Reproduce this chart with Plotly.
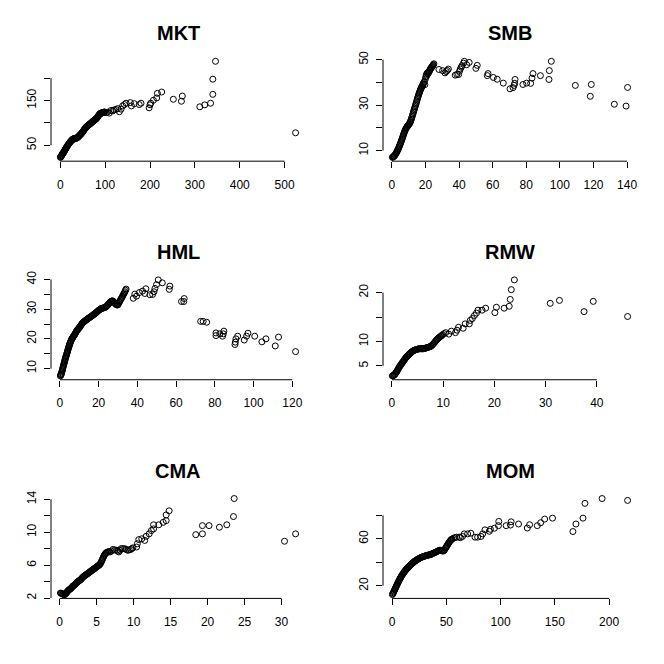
import plotly.graph_objects as go

# ---------------- data ----------------
MKT = [(0.3,23.3),(1.5,25),(3,27.5),(4.5,30),(6,32),(7.5,34.5),(9,37),(10.5,40),(12,42.5),(13.5,45),
       (15,47.5),(17,50.5),(19,53.5),(21,56),(23,58.5),(25,61),(27,63),(29,64.5),(31,65),(33,65.5),
       (35,66),(37,66.5),(39,68),(41,70),(43,72),(45,74),(47,76),(49,79),(51,81.5),(53,84.5),
       (55,87.5),(57,90),(59,92),(61,93.5),(63,95),(65,97),(67,98.5),(69,100),(71,102),(73,104),
       (75,105.5),(77,107),(79,108.5),(81,110.5),(83,113),(85,116),(87,119),(89,121),(91,122),(93,122.5),
       (95,123),(97,124),(99,124.5),(102,123),(105,124),(109,122),(113,127.8),(117,127),(120,129),(124,130),
       (128,132),(131.7,125),(135.5,130.8),(139,138),(143,141),(146.6,144),(156,145.4),(158.5,138),(165,143),(176,141),
       (180,144),(198,133.7),(200,140.5),(201.6,144),(207.6,150.6),(215,155.7),(216.5,166),(226,169),(252,152.8),(270,148.4),
       (272,160),(311,136),(322,140.3),(335,144),(340,163.8),(340,197.6),(346,237.5),(524.5,78)]
MKT_DENSE = [(0.9,23.8),(2.2,26.5),(3.7,28.5),(5.2,31.5),(6.7,33),(8.2,36),(9.7,38.5),(11.2,41.5),(12.7,43.5),(14.2,46.5),
       (16,49),(18,52),(20,54.5),(22,57.5),(24,59.5),(26,62),(28,63.5),(30,64),(32,65.5),(34,65),
       (36,66.5),(38,67),(40,69),(42,71),(44,73.5),(46,75),(48,77.5),(50,80),(52,83),(54,86),
       (56,88.5),(58,91),(60,92.5),(62,94.5),(64,96),(66,97.5),(68,99.5),(70,101),(72,103),(74,104.5),
       (76,106.5),(78,107.5),(80,109.5),(82,111.5),(84,114.5),(86,117.5),(88,120),(90,121.5),(92,122.5),(94,122.5),
       (96,123.5),(98,124)]

SMB = [(0.3,7.04),(0.8,7.3),(1.3,7.6),(1.8,8),(2.3,8.6),(2.8,9.3),(3.3,10),(3.8,10.8),(4.3,11.7),(4.8,12.6),
       (5.3,13.6),(5.8,14.6),(6.3,15.7),(6.8,16.8),(7.3,17.8),(7.8,18.8),(8.3,19.6),(8.8,20.2),(9.3,20.7),(9.8,21.2),
       (10.3,21.7),(10.8,22.4),(11.3,23.3),(11.8,24.4),(12.3,25.6),(12.8,26.9),(13.3,28.1),(13.8,29.3),(14.3,30.5),(14.8,31.8),
       (15.3,33.1),(15.8,34.3),(16.3,35.4),(16.8,36.4),(17.3,37.3),(17.8,38.1),(18.3,38.9),(18.8,39.6),(19.3,40.4),(19.6,39),
       (19.9,41.5),(20.2,42.5),(20.5,43.5),(21,44),(21.5,43.8),(22,44.5),(22.5,45.3),(23,46),(23.5,46.5),(24,47),
       (24.5,47.6),(25,48.2),(28,45.7),(30.2,45.2),(31.6,44.2),(32.3,44.8),(33,45.3),(33.6,45.9),(37.7,43.2),(38.7,43.5),
       (39.7,43.5),(40.2,44.9),(40.7,45.9),(41.3,46.7),(41.7,47.4),(42.7,48.5),(43.1,49.3),(44.5,47.8),(46,48.8),(50,46.2),
       (50.8,47.5),(56.8,43),(57.2,43.9),(60.4,42.2),(62.7,41.4),(66.3,39.7),(70.3,37.2),(72.1,37.7),(72.7,38.7),(73.1,39.6),
       (73.3,41.3),(78,39.1),(80.2,39.7),(82.6,39.6),(83.4,41.9),(84,43.9),(88.4,43),(93.5,41.3),(93.7,45.2),(94.9,49.3),
       (109.2,38.7),(118.1,33.9),(118.7,39.1),(132.4,30.4),(139.4,29.6),(140.3,37.8)]
SMB_DENSE = [(0.55,7.1),(1.05,7.45),(1.55,7.8),(2.05,8.3),(2.55,8.9),(3.05,9.6),(3.55,10.4),(4.05,11.2),(4.55,12.1),(5.05,13.1),
       (5.55,14.1),(6.05,15.1),(6.55,16.2),(7.05,17.3),(7.55,18.3),(8.05,19.2),(8.55,19.9),(9.05,20.5),(9.55,20.9),(10.05,21.4),
       (10.55,22),(11.05,22.8),(11.55,23.8),(12.05,25),(12.55,26.2),(13.05,27.5),(13.55,28.7),(14.05,29.9),(14.55,31.1),(15.05,32.4),
       (15.55,33.7),(16.05,34.9),(16.55,35.9),(17.05,36.9),(17.55,37.7),(18.05,38.5),(18.55,39.2),(19.05,40),(20.7,42.8),(21.2,44.3),
       (21.7,44.5),(22.2,44.8),(22.7,45.6),(23.2,46.3),(23.7,46.8),(24.2,47.3),(24.7,47.9)]

HML = [(0.3,7.5),(0.6,7.9),(0.9,8.5),(1.2,9.2),(1.5,10),(1.8,10.8),(2.1,11.5),(2.4,12.2),(2.7,13),(3,13.7),
       (3.3,14.3),(3.6,15),(3.9,15.6),(4.2,16.3),(4.5,17),(4.8,17.6),(5.1,18.2),(5.4,18.8),(5.8,19.4),(6.2,20),
       (6.6,20.4),(7,20.8),(7.4,21.2),(7.8,21.6),(8.3,22.2),(8.8,22.8),(9.3,23.2),(9.8,23.6),(10.3,24),(10.8,24.5),
       (11.3,25),(11.8,25.4),(12.5,25.8),(13.2,26.2),(13.9,26.5),(14.6,26.9),(15.3,27.2),(16,27.5),(16.7,27.8),(17.4,28.2),
       (18.1,28.5),(18.8,28.9),(19.5,29.3),(20.2,29.7),(20.9,30),(21.6,30.3),(22.3,30.4),(23,30.5),(23.8,30.8),(24.5,31.3),
       (25.2,31.8),(25.9,32.3),(26.6,32.7),(27.3,32.8),(28,32.3),(28.7,31.8),(29.4,31.5),(30,31.5),(30.6,32.3),(31.2,33),
       (31.8,33.7),(32.4,34.4),(33,35.2),(33.6,35.9),(34.2,36.8),(37.9,33.7),(38.7,35.1),(39.6,34.4),(41,35.6),(42.7,36.1),
       (43.9,35.3),(44.4,36.9),(46.5,34.9),(47.9,35),(48.6,35.9),(49.1,37),(49.9,38.3),(50.8,39.9),(52.9,38.9),(56.5,36.7),
       (56.8,37.8),(62.8,32.6),(64,32.6),(64.2,33.6),(72.7,25.9),(74,25.9),(75.8,25.6),(80.6,21.1),(80.6,22),(82.6,21.7),
       (84,20.9),(84.4,21.7),(84.7,22.6),(90.4,18.1),(90.6,18.9),(90.9,20),(91.8,20.9),(95.2,19.6),(96.4,20.9),(97.1,21.9),
       (100.6,20.9),(104.3,19),(106.4,20),(111.2,17.6),(112.9,20.6),(121.7,15.7)]
HML_DENSE = [(0.45,7.7),(0.75,8.2),(1.05,8.85),(1.35,9.6),(1.65,10.4),(1.95,11.15),(2.25,11.85),(2.55,12.6),(2.85,13.35),(3.15,14),
       (3.45,14.65),(3.75,15.3),(4.05,15.95),(4.35,16.65),(4.65,17.3),(4.95,17.9),(5.25,18.5),(5.6,19.1),(6,19.7),(6.4,20.2),
       (6.8,20.6),(7.2,21),(7.6,21.4),(8.05,21.9),(8.55,22.5),(9.05,23),(9.55,23.4),(10.05,23.8),(10.55,24.3),(11.05,24.7),
       (11.55,25.2),(12.15,25.6),(12.85,26),(13.55,26.3),(14.25,26.7),(14.95,27),(15.65,27.3),(16.35,27.7),(17.05,28),(17.75,28.3),
       (18.45,28.7),(19.15,29.1),(19.85,29.5),(20.55,29.8),(21.25,30.2),(21.95,30.3),(22.65,30.5),(23.4,30.6),(24.15,31),(24.85,31.5),
       (25.55,32),(26.25,32.5),(26.95,32.8),(27.65,32.6),(28.35,32),(29.05,31.6),(29.7,31.4),(30.3,31.9),(30.9,32.6),(31.5,33.4),
       (32.1,34),(32.7,34.8),(33.3,35.5),(33.9,36.4)]

RMW = [(0.1,2.95),(0.3,3.05),(0.5,3.2),(0.7,3.45),(0.9,3.75),(1.1,4.1),(1.3,4.5),(1.5,4.85),(1.7,5.15),(1.9,5.45),
       (2.1,5.75),(2.3,6.05),(2.5,6.35),(2.7,6.65),(2.9,6.9),(3.1,7.1),(3.3,7.3),(3.5,7.5),(3.7,7.7),(3.9,7.9),
       (4.2,8.1),(4.5,8.25),(4.8,8.35),(5.1,8.45),(5.4,8.5),(5.7,8.5),(6,8.5),(6.3,8.55),(6.6,8.65),(6.9,8.75),
       (7.2,8.85),(7.5,8.95),(7.8,9.2),(8.1,9.5),(8.4,9.9),(8.7,10.3),(9,10.6),(9.3,10.9),(9.6,11.1),(9.9,11.4),
       (10.5,11.8),(11.1,11.5),(11.6,12.1),(12.4,11.8),(12.7,12.3),(13,12.9),(13.9,12.7),(14.3,13.6),(15.1,13.6),(15.3,14.3),
       (15.7,14.7),(16.1,15.3),(16.5,15.8),(16.8,16.4),(17.6,16.4),(18.3,16.8),(20.1,15.9),(20.4,17),(21.9,16.8),(22.9,17.2),
       (23.1,18.6),(23.3,20.6),(23.9,22.6),(30.9,17.8),(32.7,18.4),(37.5,16.1),(39.3,18.2),(46,15.1)]
RMW_DENSE = [(0.2,3),(0.4,3.1),(0.6,3.3),(0.8,3.6),(1,3.9),(1.2,4.3),(1.4,4.7),(1.6,5),(1.8,5.3),(2,5.6),
       (2.2,5.9),(2.4,6.2),(2.6,6.5),(2.8,6.8),(3,7),(3.2,7.2),(3.4,7.4),(3.6,7.6),(3.8,7.8),(4.05,8),
       (4.35,8.2),(4.65,8.3),(4.95,8.4),(5.25,8.5),(5.55,8.5),(5.85,8.5),(6.15,8.5),(6.45,8.6),(6.75,8.7),(7.05,8.8),
       (7.35,8.9),(7.65,9.05),(7.95,9.35),(8.25,9.7),(8.55,10.1),(8.85,10.45),(9.15,10.75),(9.45,11),(9.75,11.25),(10.2,11.6)]

CMA = [(0.1,2.6),(0.3,2.55),(0.45,2.47),(0.6,2.42),(0.75,2.45),(0.9,2.6),(1.05,2.8),(1.2,2.95),(1.35,3.05),(1.5,3.15),
       (1.65,3.3),(1.8,3.45),(1.95,3.55),(2.1,3.65),(2.25,3.8),(2.4,3.95),(2.55,4.05),(2.7,4.15),(2.85,4.25),(3,4.4),
       (3.15,4.55),(3.3,4.65),(3.45,4.75),(3.6,4.85),(3.75,4.95),(3.9,5.05),(4.05,5.15),(4.2,5.25),(4.35,5.35),(4.5,5.45),
       (4.65,5.55),(4.8,5.65),(4.95,5.75),(5.1,5.85),(5.25,5.95),(5.4,6.05),(5.55,6.25),(5.7,6.55),(5.85,6.85),(6,7.15),
       (6.15,7.35),(6.3,7.5),(6.5,7.6),(6.8,7.6),(7.2,7.9),(7.7,7.8),(8,7.6),(8.3,8),(8.8,8),(9.2,7.8),
       (9.6,7.9),(9.9,8.1),(10.4,8.2),(10.5,8.6),(10.7,9.1),(11.1,9.2),(11.5,9),(11.7,9.5),(12.1,9.8),(12.4,10.2),
       (12.7,10.4),(12.7,10.9),(13.4,10.9),(14,11.2),(14.4,11.4),(14.4,12.1),(14.8,12.6),(18.4,9.7),(19.3,9.8),(19.3,10.8),
       (20.2,10.8),(21.6,10.6),(22.6,10.9),(23.5,11.9),(23.6,14.09),(30.4,8.9),(31.9,9.8)]
CMA_DENSE = [(0.2,2.58),(0.38,2.5),(0.53,2.44),(0.68,2.43),(0.83,2.52),(0.98,2.7),(1.13,2.88),(1.28,3),(1.43,3.1),(1.58,3.22),
       (1.73,3.38),(1.88,3.5),(2.03,3.6),(2.18,3.72),(2.33,3.88),(2.48,4),(2.63,4.1),(2.78,4.2),(2.93,4.32),(3.08,4.48),
       (3.23,4.6),(3.38,4.7),(3.53,4.8),(3.68,4.9),(3.83,5),(3.98,5.1),(4.13,5.2),(4.28,5.3),(4.43,5.4),(4.58,5.5),
       (4.73,5.6),(4.88,5.7),(5.03,5.8),(5.18,5.9),(5.33,6),(5.48,6.15),(5.63,6.4),(5.78,6.7),(5.93,7),(6.08,7.25),
       (6.23,7.45),(6.4,7.55),(6.65,7.65),(7,7.7),(7.45,7.85),(7.85,7.7),(8.15,7.8),(8.55,8),(9,7.9),(9.4,7.85),(9.75,8)]

MOM = [(0.3,12.5),(1.1,14),(1.9,15.6),(2.7,17.2),(3.5,18.8),(4.3,20.4),(5.1,22),(5.9,23.5),(6.7,25),(7.5,26.4),
       (8.3,27.7),(9.2,29),(10.2,30.5),(11.2,31.8),(12.2,33),(13.2,34.1),(14.2,35.1),(15.2,36.1),(16.2,37),(17.2,37.9),
       (18.2,38.8),(19.2,39.6),(20.2,40.4),(21.2,41.1),(22.2,41.7),(23.2,42.3),(24.2,42.9),(25.2,43.4),(26.2,43.9),(27.2,44.3),
       (28.2,44.7),(29.2,45),(30.2,45.3),(31.2,45.6),(32.2,45.9),(33.2,46.1),(34.2,46.4),(35.2,46.6),(36.2,46.9),(37.2,47.3),
       (38.2,47.8),(39.2,48.3),(40.2,48.7),(41.2,49.1),(42.2,49.6),(43.2,50),(44.2,50.3),(45.2,50.1),(46.2,49.7),(47.2,49.5),
       (48.2,50.5),(49.2,52),(50.2,53.5),(51.2,55),(52.2,56.5),(53.2,57.8),(54.2,58.9),(55.2,59.8),(56.5,60.5),(58,61),
       (59.5,61.4),(61.8,61.4),(63,61),(64.9,62),(66.5,64.2),(69.6,64.2),(72.6,64.8),(76.4,61.4),(78.8,61.4),(81.9,62),
       (83.5,64.2),(85.6,67.6),(89.6,66.4),(90.6,68.1),(94.3,69),(98,71.2),(98.3,74.8),(105.1,71.2),(109.1,71.7),(109.7,74.5),
       (116.5,72.6),(124.6,69.2),(126.7,72),(133.8,71.2),(136.9,73.7),(140.6,76.8),(147.8,77.6),(166.6,66.2),(169.4,72.6),(175.9,77.6),
       (177.7,90.2),(193.5,94.3),(217,92.7)]
MOM_DENSE = [(0.7,13.2),(1.5,14.8),(2.3,16.4),(3.1,18),(3.9,19.6),(4.7,21.2),(5.5,22.8),(6.3,24.3),(7.1,25.7),(7.9,27),
       (8.75,28.4),(9.7,29.8),(10.7,31.2),(11.7,32.4),(12.7,33.6),(13.7,34.6),(14.7,35.6),(15.7,36.6),(16.7,37.5),(17.7,38.4),
       (18.7,39.2),(19.7,40),(20.7,40.8),(21.7,41.4),(22.7,42),(24,42.7),(26,43.7),(28,44.6),(30,45.2),(32,45.8),
       (34,46.3),(36,46.8),(38,47.7),(40,48.6),(42,49.5),(44,50.2),(46,49.8),(48,50.2),(49.7,52.7),(50.7,54.2),
       (51.7,55.7),(52.7,57.2),(53.7,58.4),(54.7,59.4)]

TITLES = ["MKT", "SMB", "HML", "RMW", "CMA", "MOM"]
SERIES = [MKT + MKT_DENSE, SMB + SMB_DENSE, HML + HML_DENSE, RMW + RMW_DENSE, CMA + CMA_DENSE, MOM + MOM_DENSE]

X_TICKS = [
    [0, 100, 200, 300, 400, 500],
    [0, 20, 40, 60, 80, 100, 120, 140],
    [0, 20, 40, 60, 80, 100, 120],
    [0, 10, 20, 30, 40],
    [0, 5, 10, 15, 20, 25, 30],
    [0, 50, 100, 150, 200],
]
Y_TICKS = [
    [50, 100, 150, 200],
    [10, 20, 30, 40, 50],
    [10, 15, 20, 25, 30, 35, 40],
    [5, 10, 15, 20],
    [2, 4, 6, 8, 10, 12, 14],
    [20, 40, 60, 80],
]
Y_TICK_LABELS = [
    ["50", "", "150", ""],
    ["10", "", "30", "", "50"],
    ["10", "", "20", "", "30", "", "40"],
    ["5", "10", "", "20"],
    ["2", "", "6", "", "10", "", "14"],
    ["20", "", "60", ""],
]

# ---------------- layout ----------------
OFF = 8                 # default page body margin around the figure
W = H = 664 - 2 * OFF   # figure size so the page is exactly 664 x 664
# plot regions in page pixels (left, right) / (top, bottom)
COLS = [(51, 305), (383, 637)]
ROWS = [(51, 156), (272.3, 377.3), (493.7, 598.7)]
FONT = "Arial, 'Liberation Sans', sans-serif"

def pad_range(vals):
    lo, hi = min(vals), max(vals)
    d = (hi - lo) * 0.04
    return [lo - d, hi + d]

fig = go.Figure()
layout = dict(width=W, height=H, margin=dict(l=0, r=0, t=0, b=0, pad=0),
              paper_bgcolor="white", plot_bgcolor="white", showlegend=False,
              annotations=[], shapes=[])

for i, (title, pts) in enumerate(zip(TITLES, SERIES)):
    n = i + 1
    suffix = "" if n == 1 else str(n)
    r, c = divmod(i, 2)
    xs = [p[0] for p in pts]
    ys = [p[1] for p in pts]
    xa, ya = f"x{suffix}", f"y{suffix}"
    fig.add_trace(go.Scatter(
        x=xs, y=ys, mode="markers", xaxis=xa, yaxis=ya,
        marker=dict(symbol="circle-open", size=6, color="black", line=dict(width=1, color="black")),
        cliponaxis=False, hoverinfo="skip"))
    l, rr = COLS[c]
    t, b = ROWS[r]
    common = dict(showgrid=False, zeroline=False, showline=False, ticks="outside",
                  ticklen=6, tickwidth=1, tickcolor="black",
                  tickfont=dict(family=FONT, size=12, color="black"))
    layout[f"xaxis{suffix}"] = dict(domain=[(l - OFF) / W, (rr - OFF) / W], anchor=ya, range=pad_range(xs),
                                    tickmode="array", tickvals=X_TICKS[i],
                                    ticktext=[str(v) for v in X_TICKS[i]],
                                    ticklabelstandoff=6, **common)
    layout[f"yaxis{suffix}"] = dict(domain=[1 - (b - OFF) / H, 1 - (t - OFF) / H], anchor=xa, range=pad_range(ys),
                                    tickmode="array", tickvals=Y_TICKS[i], ticktext=Y_TICK_LABELS[i],
                                    tickangle=-90, ticklabelstandoff=3, **common)
    # axis lines spanning first to last tick (R style)
    layout["shapes"].append(dict(type="line", xref=xa, yref=f"{ya} domain",
                                 x0=X_TICKS[i][0], x1=X_TICKS[i][-1], y0=0, y1=0,
                                 line=dict(color="black", width=1)))
    layout["shapes"].append(dict(type="line", xref=f"{xa} domain", yref=ya,
                                 x0=0, x1=0, y0=Y_TICKS[i][0], y1=Y_TICKS[i][-1],
                                 line=dict(color="black", width=1)))
    layout["annotations"].append(dict(text=f"<b>{title}</b>", xref=f"{xa} domain", yref=f"{ya} domain",
                                      x=0.5, y=1, xanchor="center", yanchor="middle", yshift=24,
                                      showarrow=False, font=dict(family=FONT, size=20, color="black")))

fig.update_layout(**layout)
fig.write_html("out.html", config={"displayModeBar": False})
